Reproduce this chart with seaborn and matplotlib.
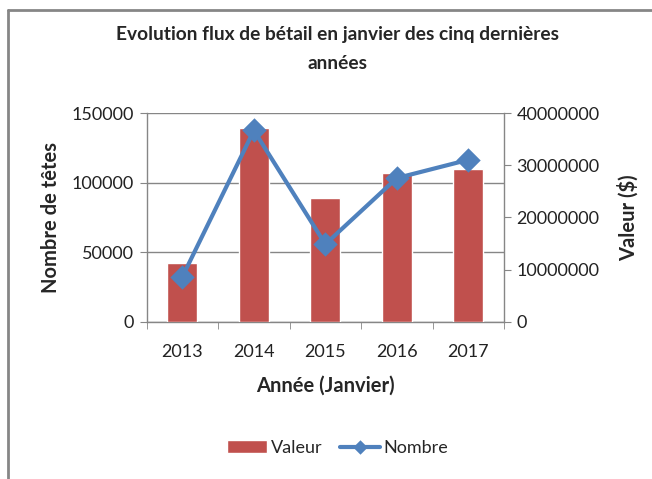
import matplotlib
matplotlib.use("Agg")
import matplotlib.pyplot as plt
import seaborn as sns
from matplotlib.lines import Line2D
from matplotlib.ticker import FixedLocator, MultipleLocator

sns.set_style("white")
plt.rcParams["font.family"] = ["Lato", "DejaVu Sans"]

# data
years = ["2013", "2014", "2015", "2016", "2017"]
valeur = [11300000, 37050000, 23650000, 28450000, 29200000]   # $ (right axis, bars)
nombre = [32500, 137500, 55800, 103300, 116400]               # heads (left axis, line)

bar_color = "#C0504D"
line_color = "#4F81BD"
axis_gray = "#868686"

fig = plt.figure(figsize=(6.52, 4.79), dpi=100)
ax = fig.add_axes([0.225, 0.328, 0.548, 0.436])
ax2 = ax.twinx()   # bars, Valeur ($)
ax3 = ax.twinx()   # line, same scale as the left axis

# bars
sns.barplot(x=years, y=valeur, ax=ax2, color=bar_color, width=0.42,
            saturation=1, label="Valeur")

# line with diamonds
sns.pointplot(x=years, y=nombre, ax=ax3, color=line_color, marker="D",
              markersize=10, linewidth=3, label="Nombre")
if ax3.get_legend() is not None:
    ax3.get_legend().remove()
if ax2.get_legend() is not None:
    ax2.get_legend().remove()

for a in (ax, ax2, ax3):
    a.set_xlim(-0.5, 4.5)

ax.set_ylim(0, 150000)
ax3.set_ylim(0, 150000)
ax2.set_ylim(0, 40000000)

# left axis: ticks and grid
ax.yaxis.set_major_locator(MultipleLocator(50000))
ax.grid(axis="y", color=axis_gray, linewidth=1)
ax.set_axisbelow(True)
ax.tick_params(axis="y", left=True, length=5, color=axis_gray, labelsize=13,
               labelcolor="#222222", pad=4)
ax.set_ylabel("Nombre de têtes", fontsize=14.5, fontweight="bold", labelpad=8)

# right axis
ax2.yaxis.set_major_locator(MultipleLocator(10000000))
ax2.ticklabel_format(axis="y", style="plain", useOffset=False)
ax2.tick_params(axis="y", right=True, length=5, color=axis_gray, labelsize=13,
                labelcolor="#222222", pad=4)
ax2.set_ylabel("Valeur ($)", fontsize=14.5, fontweight="bold", labelpad=13)
ax2.grid(False)

# hidden axis for the line
ax3.set_axis_off()

# x axis: labels at centres, tick marks between categories
ax.set_xticks(range(len(years)))
ax.set_xticklabels(years)
ax.xaxis.set_minor_locator(FixedLocator([i - 0.5 for i in range(len(years) + 1)]))
ax.tick_params(axis="x", which="major", length=0, labelsize=13,
               labelcolor="#222222", pad=16)
ax.tick_params(axis="x", which="minor", bottom=True, length=5, color=axis_gray)
ax.set_xlabel("Année (Janvier)", fontsize=14.5, fontweight="bold", labelpad=11)
ax2.set_xlabel("")
ax2.tick_params(axis="x", which="both", length=0, labelbottom=False)

for a in (ax, ax2, ax3):
    for s in a.spines.values():
        s.set_visible(False)
ax.spines["left"].set_visible(True)
ax.spines["bottom"].set_visible(True)
ax2.spines["right"].set_visible(True)
for s in (ax.spines["left"], ax.spines["bottom"], ax2.spines["right"]):
    s.set_color(axis_gray)
    s.set_linewidth(1)

# title
fig.text(0.518, 0.927, "Evolution flux de bétail en janvier des cinq dernières",
         ha="center", va="center", fontsize=13.8, fontweight="bold")
fig.text(0.518, 0.868, "années", ha="center", va="center",
         fontsize=13.8, fontweight="bold")

# legend
h2, l2 = ax2.get_legend_handles_labels()
h3, l3 = ax3.get_legend_handles_labels()
fig.legend(h2 + h3, l2 + l3, loc="center", bbox_to_anchor=(0.518, 0.065),
           ncol=2, frameon=False, fontsize=13, handlelength=2.2,
           handletextpad=0.2, columnspacing=1.0, markerscale=0.5)

# chart area border (top and left edges visible in the reference)
fig.add_artist(Line2D([0.012, 0.012], [0.0, 0.979], color=axis_gray, linewidth=2,
                      transform=fig.transFigure))
fig.add_artist(Line2D([0.012, 1.0], [0.979, 0.979], color=axis_gray, linewidth=2,
                      transform=fig.transFigure))

fig.savefig("out.png", dpi=100)
